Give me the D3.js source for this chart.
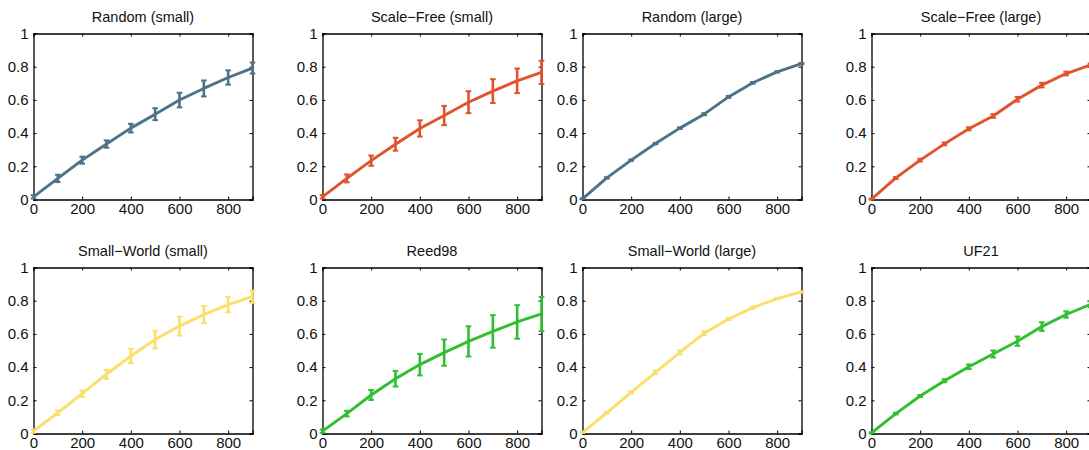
<!DOCTYPE html>
<html>
<head>
<meta charset="utf-8">
<script src="https://cdn.jsdelivr.net/npm/d3@7"></script>
<style>
  html, body { margin: 0; padding: 0; background: #fff; }
  svg { display: block; font-family: "Liberation Sans", Arial, Helvetica, sans-serif; }
</style>
</head>
<body>
<svg id="chart" width="1089" height="450"></svg>
<script>
// Number of seeds (x) shared by every panel
const seeds = [0, 100, 200, 300, 400, 500, 600, 700, 800, 900];
const xTicks = [0, 200, 400, 600, 800];
const yTicks = [0, 0.2, 0.4, 0.6, 0.8, 1];

// Panel titles, row by row
const titles = [
  "Random (small)", "Scale\u2212Free (small)", "Random (large)", "Scale\u2212Free (large)",
  "Small\u2212World (small)", "Reed98", "Small\u2212World (large)", "UF21"
];

// Mean coverage per panel
const randomSmall     = [0.016, 0.127, 0.237, 0.334, 0.430, 0.514, 0.599, 0.669, 0.735, 0.792];
const scaleFreeSmall  = [0.016, 0.127, 0.234, 0.333, 0.428, 0.506, 0.586, 0.653, 0.715, 0.766];
const randomLarge     = [0.004, 0.130, 0.237, 0.337, 0.430, 0.514, 0.618, 0.703, 0.769, 0.819];
const scaleFreeLarge  = [0.002, 0.130, 0.237, 0.335, 0.426, 0.503, 0.604, 0.689, 0.759, 0.810];
const smallWorldSmall = [0.014, 0.125, 0.240, 0.357, 0.467, 0.566, 0.647, 0.716, 0.776, 0.824];
const reed98          = [0.014, 0.120, 0.232, 0.330, 0.415, 0.487, 0.555, 0.615, 0.672, 0.720];
const smallWorldLarge = [0.006, 0.125, 0.248, 0.368, 0.489, 0.604, 0.690, 0.758, 0.812, 0.853];
const uf21            = [0.004, 0.120, 0.226, 0.318, 0.402, 0.479, 0.556, 0.644, 0.717, 0.778];

// Error bar half-widths per panel
const randomSmallErr     = [0.010, 0.022, 0.021, 0.022, 0.026, 0.036, 0.044, 0.048, 0.043, 0.033];
const scaleFreeSmallErr  = [0.010, 0.024, 0.031, 0.039, 0.049, 0.058, 0.066, 0.072, 0.074, 0.070];
const randomLargeErr     = [0.003, 0.004, 0.004, 0.004, 0.005, 0.006, 0.006, 0.005, 0.004, 0.004];
const scaleFreeLargeErr  = [0.003, 0.006, 0.008, 0.008, 0.009, 0.011, 0.014, 0.014, 0.011, 0.010];
const smallWorldSmallErr = [0.010, 0.015, 0.019, 0.027, 0.043, 0.053, 0.057, 0.052, 0.047, 0.037];
const reed98Err          = [0.010, 0.017, 0.030, 0.047, 0.065, 0.079, 0.091, 0.098, 0.101, 0.103];
const smallWorldLargeErr = [0.003, 0.005, 0.006, 0.010, 0.012, 0.012, 0.007, 0.006, 0.005, 0.004];
const uf21Err            = [0.003, 0.005, 0.006, 0.009, 0.014, 0.021, 0.028, 0.026, 0.019, 0.018];

const colors = {
  blue: "#4e7287",
  orange: "#e0532b",
  yellow: "#fadf6c",
  green: "#30bf2f"
};

const panels = [
  { mean: randomSmall,     err: randomSmallErr,     color: colors.blue },
  { mean: scaleFreeSmall,  err: scaleFreeSmallErr,  color: colors.orange },
  { mean: randomLarge,     err: randomLargeErr,     color: colors.blue },
  { mean: scaleFreeLarge,  err: scaleFreeLargeErr,  color: colors.orange },
  { mean: smallWorldSmall, err: smallWorldSmallErr, color: colors.yellow },
  { mean: reed98,          err: reed98Err,          color: colors.green },
  { mean: smallWorldLarge, err: smallWorldLargeErr, color: colors.yellow },
  { mean: uf21,            err: uf21Err,            color: colors.green }
];

// Grid geometry
const colLeft = [33.5, 322.5, 582.5, 871.5];
const rowTop = [33.5, 267.5];
const plotW = 219;
const plotH = 166;

const svg = d3.select("#chart");

panels.forEach((p, i) => {
  const col = i % 4, row = Math.floor(i / 4);
  const g = svg.append("g").attr("transform", `translate(${colLeft[col]},${rowTop[row]})`);

  const x = d3.scaleLinear().domain([0, 900]).range([0, plotW]);
  const y = d3.scaleLinear().domain([0, 1]).range([plotH, 0]);

  // Axes box with inward ticks on all four sides
  const fmtY = d => d3.format("~g")(d);
  const axes = [
    d3.axisBottom(x).tickValues(xTicks).tickSize(-3).tickPadding(4).tickFormat(d3.format("d")),
    d3.axisLeft(y).tickValues(yTicks).tickSize(-3).tickPadding(5).tickFormat(fmtY),
    d3.axisTop(x).tickValues(xTicks).tickSize(-3).tickFormat(""),
    d3.axisRight(y).tickValues(yTicks).tickSize(-3).tickFormat("")
  ];
  const trans = [`translate(0,${plotH})`, null, null, `translate(${plotW},0)`];
  axes.forEach((ax, k) => {
    const a = g.append("g").attr("transform", trans[k]).call(ax);
    a.select(".domain").attr("stroke", "#000").attr("stroke-width", 1.3);
    a.selectAll(".tick line").attr("stroke", "#000").attr("stroke-width", 1);
    a.selectAll(".tick text")
      .attr("fill", "#111")
      .attr("font-size", 15)
      .attr("font-family", "Liberation Sans, Arial, sans-serif");
  });

  // Mean curve
  const line = d3.line().x((d, j) => x(seeds[j])).y(d => y(d));
  g.append("path")
    .datum(p.mean)
    .attr("fill", "none")
    .attr("stroke", p.color)
    .attr("stroke-width", 2.9)
    .attr("stroke-linejoin", "round")
    .attr("d", line);

  // Error bars with caps
  const eb = g.append("g").attr("stroke", p.color).attr("fill", "none");
  p.mean.forEach((m, j) => {
    const cx = x(seeds[j]);
    const y1 = y(m - p.err[j]), y2 = y(m + p.err[j]);
    eb.append("line").attr("x1", cx).attr("x2", cx).attr("y1", y1).attr("y2", y2).attr("stroke-width", 2.6);
    eb.append("line").attr("x1", cx - 2.8).attr("x2", cx + 2.8).attr("y1", y1).attr("y2", y1).attr("stroke-width", 2);
    eb.append("line").attr("x1", cx - 2.8).attr("x2", cx + 2.8).attr("y1", y2).attr("y2", y2).attr("stroke-width", 2);
  });

  // Title
  g.append("text")
    .attr("x", plotW / 2)
    .attr("y", -11.5)
    .attr("text-anchor", "middle")
    .attr("fill", "#111")
    .attr("font-size", 14.5)
    .text(titles[i]);
});
</script>
</body>
</html>
